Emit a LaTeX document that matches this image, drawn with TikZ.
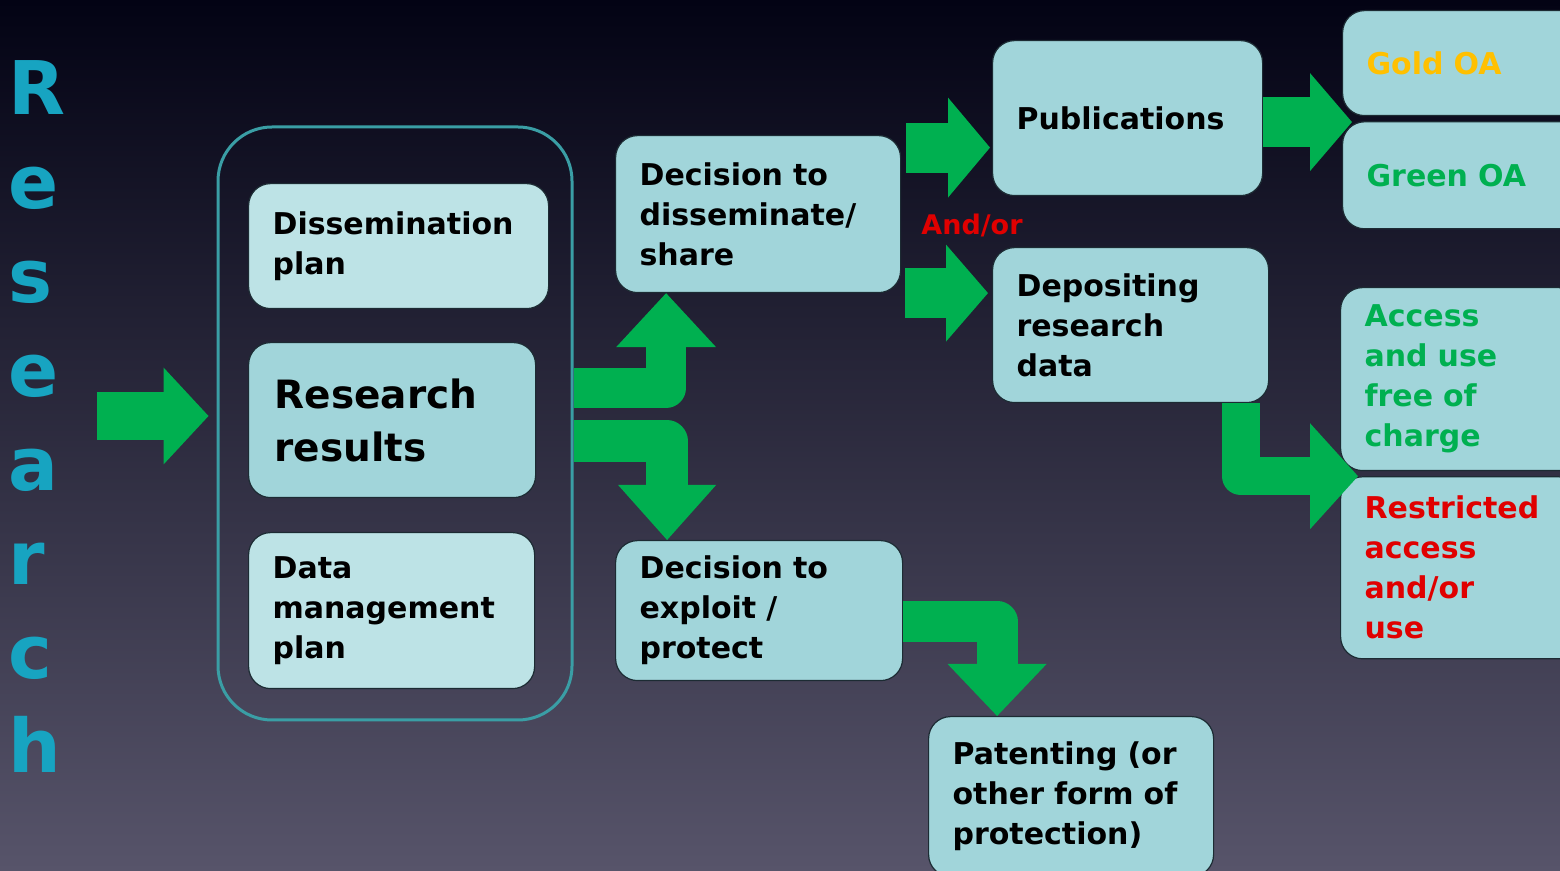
\documentclass[tikz,border=0pt]{standalone}
\usepackage{fontspec}
\setmainfont{DejaVu Sans}
\usetikzlibrary{positioning,arrows.meta}
\definecolor{bgtop}{HTML}{030314}
\definecolor{bgbottom}{HTML}{57546A}
\definecolor{boxfill}{HTML}{A1D5DA}
\definecolor{boxlight}{HTML}{BDE3E6}
\definecolor{boxline}{HTML}{1C2B33}
\definecolor{frameline}{HTML}{3A9EA5}
\definecolor{arrowgreen}{HTML}{00B050}
\definecolor{oagold}{HTML}{FFC000}
\definecolor{oared}{HTML}{E00000}
\definecolor{titleblue}{HTML}{17A4C1}
\tikzset{
box/.style={shape=rectangle, rounded corners=11pt, draw=boxline, line width=0.6pt, fill=boxfill, inner xsep=12pt, inner ysep=0pt, anchor=north west, align=left, font=\bfseries\fontsize{15}{20}\selectfont},
light box/.style={box, fill=boxlight},
frame/.style={shape=rectangle, rounded corners=27pt, draw=frameline, line width=1.5pt, minimum width=177pt, minimum height=296.5pt},
title letter/.style={anchor=base west, inner sep=0pt, text=titleblue, font=\bfseries\fontsize{37}{40}\selectfont},
fat arrow/.style n args={3}{draw=arrowgreen, line width=#1, line join=round, -{Triangle[length=#2, width=#3, line width=0pt, fill=arrowgreen]}}
}
\begin{document}
\begin{tikzpicture}[x=0.5pt, y=-0.5pt]
\useasboundingbox (0,0) rectangle (1560,871);
\shade[top color=bgtop, bottom color=bgbottom] (0,0) rectangle (1560,871);
\clip (0,0) rectangle (1560,871);
\foreach \ltr [count=\i from 0] in {R,e,s,e,a,r,c,h}
  \node[title letter] (letter\i) at (8,{115+94*\i}) {\ltr};
\node[frame] (outer) at (395,423.5) {};
\node[light box, text width=126pt, minimum height=62.5pt] (dplan) at (248,183) {Dissemination\\plan};
\node[box, text width=117.5pt, inner xsep=13pt, minimum height=77.5pt, font=\bfseries\fontsize{19.5}{26.5}\selectfont] (rres) at (248,342) {Research\\results};
\node[light box, text width=119pt, minimum height=78pt] (dmp) at (248,532) {Data\\management\\plan};
\node[box, text width=118.5pt, minimum height=78.5pt] (dshare) at (615,135) {Decision to\\disseminate/\\share};
\node[box, text width=119.5pt, minimum height=70pt] (dexp) at (615,540) {Decision to\\exploit /\\protect};
\node[box, text width=111pt, minimum height=77.5pt] (pub) at (992,40) {Publications};
\node[box, text width=114pt, minimum height=77.5pt] (dep) at (992,247) {Depositing\\research\\data};
\node[box, text width=96pt, minimum height=52.5pt, text=oagold] (gold) at (1342,10) {Gold OA};
\node[box, text width=96pt, minimum height=53.5pt, text=arrowgreen, below=2.5pt of gold] (green) {Green OA};
\node[box, text width=96pt, minimum height=91.5pt, text=arrowgreen] (access) at (1340,287) {Access\\and use\\free of\\charge};
\node[box, text width=96pt, minimum height=91pt, text=oared, below=2.5pt of access] (restr) {Restricted\\access\\and/or\\use};
\node[box, text width=118.5pt, minimum height=80pt] (patent) at (928,716) {Patenting (or\\other form of\\protection)};
\node[text=oared, font=\bfseries\fontsize{13.5}{16}\selectfont] (andor) at (972,225) {And/or};
\coordinate (src) at (97,416);
\draw[fat arrow={24pt}{22.5pt}{48.5pt}] (src) -- ([shift={(-4pt,3.75pt)}]outer.west);
\draw[fat arrow={20pt}{27pt}{50pt}] ([yshift=17.75pt]outer.east) -| ([xshift=-46pt]dshare.south);
\draw[fat arrow={21pt}{27.5pt}{49pt}] ([yshift=-9pt]outer.east) -| ([xshift=-46pt]dexp.north);
\draw[fat arrow={25pt}{21pt}{50pt}] ([shift={(2.5pt,33.25pt)}]dshare.east) -- ([shift={(-1pt,33.25pt)}]dshare.east -| pub.west);
\draw[fat arrow={25pt}{21pt}{48.5pt}] ([shift={(2pt,-39.5pt)}]dshare.east) -- ([shift={(-2pt,-39.5pt)}]dshare.east -| dep.west);
\draw[fat arrow={25pt}{21pt}{49pt}] ([yshift=-2pt]pub.east) -- ([shift={(5pt,-2pt)}]pub.east -| green.west);
\draw[fat arrow={19pt}{24pt}{53pt}] ([xshift=55pt]dep.south) |- ([xshift=9pt]restr.north west);
\draw[fat arrow={20.5pt}{26pt}{49.5pt}] ([yshift=-5.5pt]dexp.east) -| ([xshift=-37pt]patent.north);
\end{tikzpicture}
\end{document}
